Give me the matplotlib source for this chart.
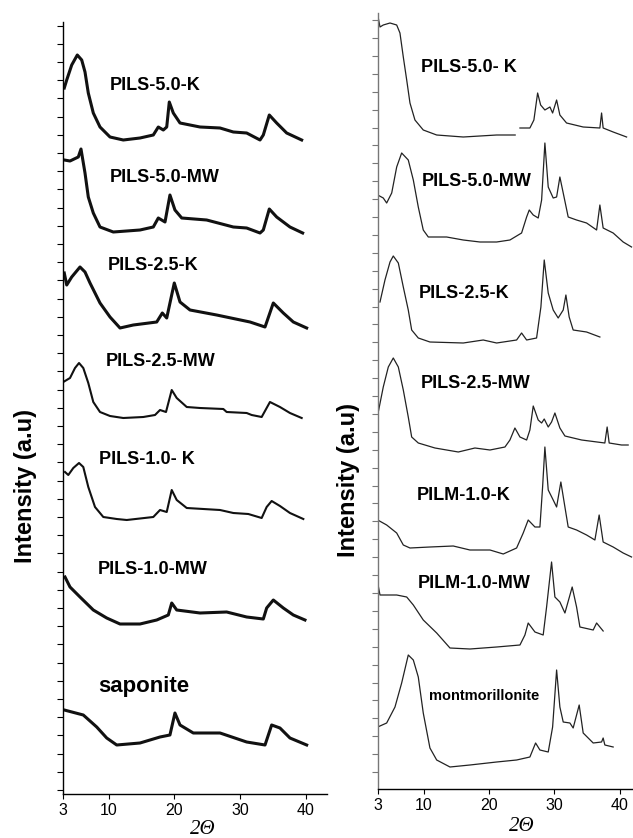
import numpy as np
import matplotlib
matplotlib.use("Agg")
import matplotlib.pyplot as plt
from matplotlib.ticker import FixedLocator

# ---- left panel: saponite series (2theta, intensity a.u. incl. offset) ----
s50k_x = [3.27, 3.64, 4.40, 5.25, 5.92, 6.42, 6.92, 7.68, 8.70, 10.22, 12.24, 14.78, 16.80, 17.56,
          18.32, 18.84, 19.23, 19.84, 20.86, 23.90, 26.94, 28.96, 30.99, 33.02, 33.52, 34.43, 35.55, 37.07, 39.35]
s50k_y = [706, 714, 729, 739, 734, 722, 701, 681, 667, 657, 654, 656, 659, 667,
          664, 667, 692, 681, 671, 667, 666, 662, 661, 654, 659, 679, 671, 661, 654]

s50mw_x = [3.27, 4.14, 5.40, 5.81, 6.42, 6.92, 7.68, 8.70, 10.72, 14.78, 16.80, 17.56, 18.58, 19.33,
           20.09, 21.12, 24.91, 28.96, 30.99, 33.02, 33.52, 34.43, 35.55, 37.57, 39.50]
s50mw_y = [634, 633, 637, 645, 621, 597, 581, 567, 562, 564, 567, 576, 572, 599,
           584, 576, 574, 567, 566, 561, 564, 585, 577, 567, 561]

s25k_x = [3.27, 3.64, 4.40, 5.66, 6.42, 7.18, 8.70, 10.22, 11.74, 13.76, 17.32, 18.17, 18.84, 19.99,
          20.86, 22.38, 26.43, 31.50, 33.78, 35.04, 36.56, 38.08, 40.11]
s25k_y = [521, 509, 517, 527, 522, 511, 491, 477, 466, 469, 472, 481, 476, 511,
          492, 484, 479, 472, 467, 491, 481, 472, 466]

s25mw_x = [3.12, 4.14, 4.90, 5.51, 6.16, 6.92, 7.68, 8.70, 10.22, 12.24, 15.28, 17.06, 17.82, 18.73,
           19.60, 20.36, 21.88, 23.90, 27.44, 27.95, 30.99, 31.75, 33.27, 34.53, 36.05, 37.57, 39.35]
s25mw_y = [412, 416, 426, 431, 426, 411, 392, 382, 378, 376, 377, 379, 384, 382,
           404, 396, 387, 386, 385, 382, 381, 379, 377, 392, 387, 381, 376]

s10k_x = [3.38, 3.88, 4.64, 5.51, 6.16, 6.92, 7.94, 9.20, 11.24, 12.76, 16.80, 17.82, 18.84, 19.60,
          20.36, 21.88, 26.94, 28.96, 31.24, 33.27, 34.03, 34.79, 36.05, 37.57, 39.60]
s10k_y = [322, 319, 326, 331, 327, 307, 287, 277, 275, 274, 277, 284, 282, 304,
          294, 286, 284, 281, 280, 276, 287, 293, 288, 281, 275]

s10mw_x = [3.38, 4.14, 5.66, 7.68, 9.72, 11.74, 14.78, 17.32, 19.08, 19.60, 20.36, 23.90, 27.95,
           30.99, 33.52, 34.03, 35.04, 36.56, 38.08, 39.85]
s10mw_y = [217, 207, 197, 184, 176, 170, 170, 174, 179, 191, 184, 181, 182,
           177, 175, 186, 194, 186, 179, 174]

sap_x = [3.27, 6.16, 8.20, 9.72, 11.24, 14.78, 17.82, 19.33, 20.09, 20.86, 22.88, 26.94, 30.99,
         33.78, 34.79, 36.05, 37.57, 40.11]
sap_y = [84, 79, 67, 56, 49, 51, 57, 59, 81, 69, 61, 61, 52, 49, 69, 66, 56, 49]

# ---- right panel: montmorillonite series ----
m50k_x = [3.0, 3.35, 3.85, 4.88, 5.90, 6.40, 6.91, 7.43, 7.93, 8.69, 9.96, 12.01, 16.07, 21.17, 24.0,
          np.nan, 24.73, 26.25, 26.86, 27.43, 27.89, 28.54, 29.31, 29.72, 30.33, 30.83, 31.85, 34.39,
          36.94, 37.20, 37.44, 38.97, 41.02]
m50k_y = [774, 762, 764, 766, 764, 756, 732, 709, 686, 669, 659, 654, 652, 654, 654,
          np.nan, 661, 661, 669, 696, 684, 679, 682, 676, 689, 674, 666, 662,
          661, 676, 661, 657, 652]

m50mw_x = [3.0, 3.85, 4.37, 5.14, 5.90, 6.66, 7.67, 8.44, 9.20, 9.96, 10.73, 13.53, 16.07, 18.62,
           21.17, 23.20, 24.98, 25.75, 26.15, 26.76, 27.52, 28.04, 28.54, 29.05, 29.81, 30.33, 30.83,
           31.34, 32.10, 33.38, 34.91, 36.44, 36.94, 37.44, 38.97, 40.50, 41.78]
m50mw_y = [594, 591, 586, 596, 622, 636, 629, 609, 582, 559, 552, 552, 549, 547,
           547, 549, 556, 572, 579, 574, 571, 589, 646, 602, 591, 592, 612,
           596, 572, 569, 566, 559, 584, 561, 556, 547, 542]

m25k_x = [3.35, 4.11, 4.88, 5.38, 6.15, 6.91, 7.67, 8.19, 9.20, 10.98, 16.07, 19.12, 21.17, 24.22,
          24.98, 25.75, 27.27, 27.93, 28.44, 29.05, 29.81, 30.57, 31.34, 31.75, 32.25, 32.86, 34.91, 36.94]
m25k_y = [487, 509, 527, 533, 526, 502, 479, 459, 451, 447, 446, 449, 446, 449,
          456, 449, 451, 482, 529, 496, 479, 471, 479, 494, 472, 459, 457, 452]

m25mw_x = [3.09, 3.85, 4.62, 5.38, 6.15, 6.91, 7.67, 8.19, 9.20, 11.75, 15.31, 17.85, 20.15, 22.44,
           23.20, 23.96, 24.73, 25.75, 26.25, 26.76, 27.52, 28.04, 28.44, 29.05, 29.56, 30.07, 30.83,
           31.60, 34.15, 37.70, 38.05, 38.36, 40.25, 41.26]
m25mw_y = [377, 402, 422, 431, 422, 399, 372, 352, 346, 341, 337, 341, 339, 342,
           349, 361, 352, 349, 359, 383, 369, 366, 370, 362, 367, 376, 361,
           353, 349, 346, 362, 346, 344, 344]

m10k_x = [3.0, 4.37, 5.90, 6.91, 7.93, 10.98, 14.54, 17.09, 20.15, 22.18, 24.22, 25.23, 25.99, 27.02,
          27.78, 28.19, 28.54, 29.05, 29.81, 30.33, 30.98, 31.60, 32.10, 33.38, 34.91, 36.18, 36.83,
          37.44, 38.97, 40.50, 41.78]
m10k_y = [269, 264, 256, 244, 241, 242, 243, 239, 239, 235, 241, 256, 269, 262,
          262, 302, 342, 299, 289, 282, 307, 282, 262, 259, 254, 249, 274,
          247, 242, 236, 232]

m10mw_x = [3.0, 3.35, 5.90, 7.43, 8.44, 9.96, 12.01, 14.04, 17.09, 21.17, 24.73, 25.49, 25.99, 27.02,
           28.28, 28.80, 29.56, 30.07, 30.83, 31.60, 32.71, 33.38, 33.89, 35.92, 36.44, 37.44]
m10mw_y = [206, 194, 194, 192, 184, 169, 156, 141, 140, 142, 144, 154, 166, 157,
           154, 182, 227, 192, 187, 176, 202, 182, 162, 159, 166, 158]

mont_x = [3.0, 4.37, 5.64, 6.66, 7.67, 8.44, 9.20, 9.96, 10.98, 12.01, 14.04, 17.09, 21.17, 24.22,
          26.25, 27.12, 27.78, 29.05, 29.72, 30.33, 30.83, 31.34, 32.36, 32.86, 33.78, 34.39, 35.92,
          37.20, 37.44, 37.70, 38.97]
mont_y = [62, 66, 82, 106, 134, 129, 112, 76, 41, 29, 22, 24, 27, 29,
          32, 46, 39, 37, 62, 119, 82, 67, 66, 61, 84, 56, 46,
          47, 51, 44, 42]

left_names = ["PILS-5.0-K", "PILS-5.0-MW", "PILS-2.5-K", "PILS-2.5-MW", "PILS-1.0- K", "PILS-1.0-MW", "saponite"]
left_label_x = [10.2, 10.2, 9.9, 9.6, 8.55, 8.4, 8.4]
left_label_y = [709, 617, 528, 433, 335, 225, 108]

right_names = ["PILS-5.0- K", "PILS-5.0-MW", "PILS-2.5-K", "PILS-2.5-MW", "PILM-1.0-K", "PILM-1.0-MW", "montmorillonite"]
right_label_x = [9.56, 9.7, 9.3, 9.6, 9.0, 9.15, 10.8]
right_label_y = [721, 607, 496, 406, 294, 206, 93]

xticks = [3, 10, 20, 30, 40]

W, H = 633, 838
fig = plt.figure(figsize=(W / 100, H / 100), dpi=100)

ax1 = fig.add_axes([62.5 / W, (H - 794) / H, 264.5 / W, 772 / H])
ax2 = fig.add_axes([377.7 / W, (H - 789) / H, (W - 377.7) / W, 776 / H])

# left panel curves (noisy ones drawn thicker)
left_curves = [(s50k_x, s50k_y, 2.2), (s50mw_x, s50mw_y, 2.2), (s25k_x, s25k_y, 2.2),
               (s25mw_x, s25mw_y, 1.5), (s10k_x, s10k_y, 1.5), (s10mw_x, s10mw_y, 2.2),
               (sap_x, sap_y, 2.2)]
for xs, ys, lw in left_curves:
    ax1.plot(xs, ys, color="#111111", lw=lw, solid_joinstyle="round")

right_curves = [(m50k_x, m50k_y), (m50mw_x, m50mw_y), (m25k_x, m25k_y), (m25mw_x, m25mw_y),
                (m10k_x, m10k_y), (m10mw_x, m10mw_y), (mont_x, mont_y)]
for xs, ys in right_curves:
    ax2.plot(xs, ys, color="#222222", lw=0.9)

for name, x, y in zip(left_names, left_label_x, left_label_y):
    fs = 16 if name == "saponite" else 13
    ax1.text(x, y, name, fontsize=fs, fontweight="bold", family="Liberation Sans", ha="left", va="center")
for name, x, y in zip(right_names, right_label_x, right_label_y):
    fs = 10.5 if name == "montmorillonite" else 13
    ax2.text(x, y, name, fontsize=fs, fontweight="bold", family="Liberation Sans", ha="left", va="center")

ax1.set_xlim(3, 43.2)
ax1.set_ylim(0, 772)
ax2.set_xlim(3, 42)
ax2.set_ylim(0, 776)

ax1.yaxis.set_major_locator(FixedLocator(np.arange(4, 772, 18.2)))
ax2.yaxis.set_major_locator(FixedLocator(np.arange(17, 776, 17.9)))

for ax, spine_col in [(ax1, "black"), (ax2, "#777777")]:
    ax.set_xticks(xticks)
    ax.set_xticklabels([str(t) for t in xticks], family="Liberation Sans", fontsize=11.5)
    ax.set_yticklabels([])
    ax.spines["top"].set_visible(False)
    ax.spines["right"].set_visible(False)
    ax.spines["left"].set_color(spine_col)
    ax.spines["left"].set_linewidth(1.0)
    ax.spines["bottom"].set_linewidth(1.0)
    ax.tick_params(axis="y", direction="out", length=4, width=0.8, color=spine_col)
    ax.tick_params(axis="x", direction="out", length=3.5, width=0.8, pad=3)
    ax.patch.set_visible(False)

fig.text(26 / W, 1 - 486 / H, "Intensity (a.u)", rotation=90, fontsize=17, fontweight="bold",
         family="Liberation Sans", ha="center", va="center")
fig.text(349 / W, 1 - 480 / H, "Intensity (a.u)", rotation=90, fontsize=17, fontweight="bold",
         family="Liberation Sans", ha="center", va="center")
fig.text(203 / W, 1 - 829 / H, "2Θ", fontsize=15, style="italic",
         family="Liberation Serif", ha="center", va="center")
fig.text(522 / W, 1 - 826 / H, "2Θ", fontsize=15, style="italic",
         family="Liberation Serif", ha="center", va="center")

fig.savefig("out.png", dpi=100, facecolor="white")
